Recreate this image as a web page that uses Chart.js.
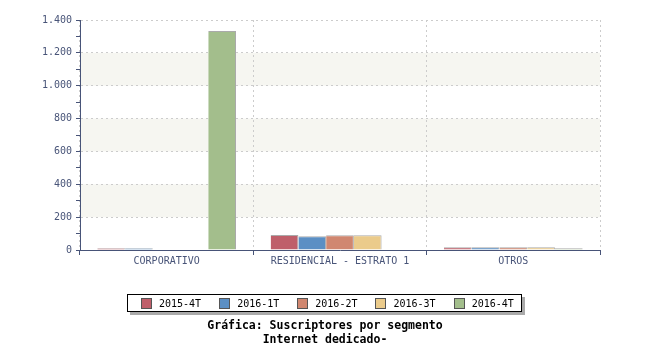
<!DOCTYPE html>
<html>
<head>
<meta charset="utf-8">
<script src="https://cdn.jsdelivr.net/npm/chart.js@4"></script>
<style>
  body { margin: 0; background: #fff; }
  #wrap { position: relative; width: 650px; height: 350px; }
  #legend {
    position: absolute; left: 127px; top: 294px; width: 395px; height: 18px;
    border: 1px solid #000; background: #fff; box-shadow: 3px 3px 0 #aaa;
    font: 10px "DejaVu Sans Mono", monospace; color: #000; white-space: nowrap;
    display: flex; align-items: center; padding-left: 13px; box-sizing: border-box;
  }
  #legend span.item { display: inline-flex; align-items: center; margin-right: 18px; white-space: nowrap; }
  #legend i { display: inline-block; width: 9px; height: 9px; border: 1px solid #555; margin-right: 7px; }
  #title {
    position: absolute; left: 0; top: 318px; width: 650px; text-align: center;
    font: bold 11.5px "DejaVu Sans Mono", monospace; line-height: 14px; color: #000;
  }
</style>
</head>
<body>
<div id="wrap">
  <canvas id="chart" width="650" height="350"></canvas>
  <div id="legend"></div>
  <div id="title">Gráfica: Suscriptores por segmento<br>Internet dedicado-</div>
</div>
<script>
// categories and series
const categories = ['CORPORATIVO', 'RESIDENCIAL - ESTRATO 1', 'OTROS'];
const seriesNames = ['2015-4T', '2016-1T', '2016-2T', '2016-3T', '2016-4T'];
const s2015_4T = [11, 91, 16];
const s2016_1T = [11, 83, 16];
const s2016_2T = [3, 90, 16];
const s2016_3T = [3, 90, 17];
const s2016_4T = [1333, 3, 10];
const colors = ['#bf5f6a', '#5b8fc4', '#d08770', '#ebcb8b', '#a3be8c'];

const axisColor = '#485478';

// light bands behind alternate grid rows
const bands = {
    id: 'bands',
    beforeDraw(chart) {
        const { ctx, chartArea, scales } = chart;
        const y = scales.y;
        ctx.save();
        ctx.fillStyle = '#f6f6f1';
        [[200, 400], [600, 800], [1000, 1200]].forEach(([a, b]) => {
            const top = y.getPixelForValue(b), bot = y.getPixelForValue(a);
            ctx.fillRect(chartArea.left, top, chartArea.right - chartArea.left, bot - top);
        });
        ctx.restore();
    }
};

const allSeries = [s2015_4T, s2016_1T, s2016_2T, s2016_3T, s2016_4T];

new Chart(document.getElementById('chart').getContext('2d'), {
    type: 'bar',
    data: {
        labels: categories,
        datasets: allSeries.map((d, i) => ({
            label: seriesNames[i],
            data: d,
            backgroundColor: colors[i],
            borderColor: '#aaaaaa',
            borderWidth: { top: 1, right: 1, left: 0, bottom: 0 },
            borderSkipped: false,
            categoryPercentage: 0.8,
            barPercentage: 1.0
        }))
    },
    options: {
        responsive: false,
        animation: false,
        layout: { padding: { top: 20, right: 50, bottom: 80, left: 0 } },
        plugins: { legend: { display: false }, title: { display: false }, tooltip: { enabled: false } },
        scales: {
            x: {
                afterFit: s => { s.height = 20; },
                grid: {
                    offset: true,
                    color: '#cccccc',
                    tickColor: axisColor,
                    tickLength: 5,
                    tickBorderDash: []
                },
                border: { color: axisColor, width: 1, dash: [2, 3] },
                ticks: {
                    color: axisColor,
                    padding: 0,
                    font: { family: 'DejaVu Sans Mono', size: 10 }
                }
            },
            y: {
                min: 0, max: 1400,
                afterFit: s => { s.width = 80; },
                grid: {
                    color: c => (c.tick && c.tick.value % 200 === 0 && c.tick.value > 0) ? '#cccccc' : 'rgba(0,0,0,0)',
                    tickColor: axisColor,
                    tickLength: 4,
                    tickBorderDash: []
                },
                border: { color: axisColor, width: 1, dash: [2, 3] },
                ticks: {
                    stepSize: 100,
                    autoSkip: false,
                    color: axisColor,
                    padding: 4,
                    font: { family: 'DejaVu Sans Mono', size: 10 },
                    callback: v => v % 200 === 0 ? v.toString().replace(/\B(?=(\d{3})+(?!\d))/g, '.') : ''
                }
            }
        }
    },
    plugins: [bands]
});

// legend built from the series names and colours
const legend = document.getElementById('legend');
seriesNames.forEach((name, i) => {
    const it = document.createElement('span');
    it.className = 'item';
    it.innerHTML = '<i style="background:' + colors[i] + '"></i>' + name;
    legend.appendChild(it);
});
</script>
</body>
</html>
